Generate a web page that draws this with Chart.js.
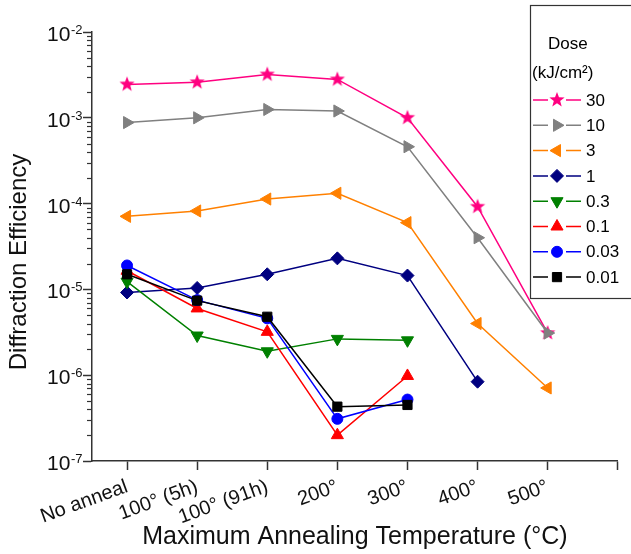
<!DOCTYPE html>
<html>
<head>
<meta charset="utf-8">
<script src="https://cdn.jsdelivr.net/npm/chart.js@4.4.0/dist/chart.umd.min.js"></script>
<style>
  html, body { margin: 0; padding: 0; background: #fff; }
  #wrap { width: 631px; height: 554px; }
</style>
</head>
<body>
<div id="wrap"><canvas id="myChart"></canvas></div>
<script>
// categories along x, one series per dose (kJ/cm2)
var categories = ["No anneal", "100° (5h)", "100° (91h)", "200°", "300°", "400°", "500°"];
var doseLabels = ["30", "10", "3", "1", "0.3", "0.1", "0.03", "0.01"];
var yTickExponents = ["-7", "-6", "-5", "-4", "-3", "-2"];

var dose30 = [2.45e-3, 2.6e-3, 3.2e-3, 2.8e-3, 1.0e-3, 9.2e-5, 3.1e-6];
var dose10 = [8.8e-4, 1.0e-3, 1.25e-3, 1.2e-3, 4.6e-4, 4.0e-5, 3.1e-6];
var dose3 = [7.1e-5, 8.2e-5, 1.13e-4, 1.32e-4, 6.0e-5, 4.0e-6, 7.1e-7];
var dose1 = [9.2e-6, 1.04e-5, 1.5e-5, 2.3e-5, 1.45e-5, 8.4e-7, null];
var dose03 = [1.23e-5, 2.9e-6, 1.9e-6, 2.65e-6, 2.55e-6, null, null];
var dose01 = [1.65e-5, 6.0e-6, 3.2e-6, 2.0e-7, 9.8e-7, null, null];
var dose003 = [1.9e-5, 7.5e-6, 4.6e-6, 3.1e-7, 5.2e-7, null, null];
var dose001 = [1.5e-5, 7.4e-6, 4.8e-6, 4.3e-7, 4.5e-7, null, null];

var seriesValues = [dose30, dose10, dose3, dose1, dose03, dose01, dose003, dose001];
var colors = ["#FF0080", "#808080", "#FF8000", "#000080", "#008000", "#FF0000", "#0000FF", "#000000"];

var FONT = '"Liberation Sans", Arial, sans-serif';

// filled five point star for the 30 kJ/cm2 series
function makeStar(color, r) {
  var c = document.createElement('canvas');
  c.width = c.height = Math.ceil(r * 2 + 2);
  var g = c.getContext('2d');
  var cx = c.width / 2, cy = c.height / 2;
  g.beginPath();
  for (var i = 0; i < 10; i++) {
    var rr = i % 2 ? r * 0.42 : r;
    var a = -Math.PI / 2 + i * Math.PI / 5;
    g.lineTo(cx + rr * Math.cos(a), cy + rr * Math.sin(a));
  }
  g.closePath();
  g.fillStyle = color;
  g.fill();
  return c;
}
var star = makeStar(colors[0], 8);

var styles = [
  {pointStyle: star, rotation: 0, radius: 8},
  {pointStyle: 'triangle', rotation: 90, radius: 7},
  {pointStyle: 'triangle', rotation: -90, radius: 7},
  {pointStyle: 'rectRot', rotation: 0, radius: 6.5},
  {pointStyle: 'triangle', rotation: 180, radius: 7},
  {pointStyle: 'triangle', rotation: 0, radius: 7},
  {pointStyle: 'circle', rotation: 0, radius: 5.5},
  {pointStyle: 'rect', rotation: 0, radius: 6.5}
];

var datasets = seriesValues.map(function (vals, k) {
  var pts = [];
  vals.forEach(function (v, i) { if (v !== null) pts.push({x: i, y: v}); });
  return {
    label: doseLabels[k],
    data: pts,
    borderColor: colors[k],
    backgroundColor: colors[k],
    borderWidth: 1.5,
    pointStyle: styles[k].pointStyle,
    pointRotation: styles[k].rotation,
    pointRadius: styles[k].radius,
    pointBorderWidth: 1,
    order: seriesValues.length - k
  };
});

function isMajor(v) {
  var e = Math.log10(v);
  return Math.abs(e - Math.round(e)) < 1e-6;
}

// minor ticks, 10^n labels with real superscripts, rotated y title
var axisPlugin = {
  id: 'logAxis',
  afterDraw: function (chart) {
    var ctx = chart.ctx, ys = chart.scales.y;
    ctx.save();
    ctx.strokeStyle = '#333';
    ctx.lineWidth = 1.2;
    ys.ticks.forEach(function (t) {
      var py = Math.round(ys.getPixelForValue(t.value)) + 0.5;
      if (!isMajor(t.value)) {
        ctx.beginPath();
        ctx.moveTo(ys.right - 5, py);
        ctx.lineTo(ys.right, py);
        ctx.stroke();
        return;
      }
      var exp = yTickExponents[Math.round(Math.log10(t.value)) + 7];
      ctx.fillStyle = '#111';
      ctx.textBaseline = 'alphabetic';
      ctx.textAlign = 'left';
      ctx.font = '13px ' + FONT;
      var we = ctx.measureText(exp).width;
      ctx.font = '21px ' + FONT;
      var wb = ctx.measureText('10').width;
      var x0 = ys.right - 10 - we - wb;
      ctx.fillText('10', x0, py + 8);
      ctx.font = '13px ' + FONT;
      ctx.fillText(exp, x0 + wb + 0.5, py + 1);
    });
    ctx.translate(19, 262);
    ctx.rotate(-Math.PI / 2);
    ctx.font = '24px ' + FONT;
    ctx.textAlign = 'center';
    ctx.textBaseline = 'middle';
    ctx.fillStyle = '#111';
    ctx.fillText('Diffraction Efficiency', 0, 0);
    ctx.restore();
  }
};

var legendPlugin = {
  id: 'doseLegend',
  afterDraw: function (chart) {
    var ctx = chart.ctx;
    ctx.save();
    ctx.fillStyle = '#fff';
    ctx.fillRect(530, 5, 110, 293);
    ctx.strokeStyle = '#333';
    ctx.lineWidth = 1.2;
    ctx.strokeRect(530.5, 5.5, 110, 293);
    ctx.fillStyle = '#000';
    ctx.font = '17px ' + FONT;
    ctx.textBaseline = 'middle';
    ctx.textAlign = 'left';
    ctx.fillText('Dose', 548, 44);
    ctx.fillText('(kJ/cm²)', 532, 73);
    chart.data.datasets.forEach(function (ds, k) {
      var y = 100 + k * 25.3;
      ctx.strokeStyle = ds.borderColor;
      ctx.lineWidth = 1.5;
      ctx.beginPath();
      ctx.moveTo(533, y);
      ctx.lineTo(548, y);
      ctx.moveTo(566, y);
      ctx.lineTo(581, y);
      ctx.stroke();
      ctx.fillStyle = ds.backgroundColor;
      ctx.lineWidth = 1;
      Chart.helpers.drawPoint(ctx, {
        pointStyle: ds.pointStyle,
        rotation: ds.pointRotation,
        radius: ds.pointRadius,
        borderWidth: 1
      }, 557, y);
      ctx.fillStyle = '#000';
      ctx.fillText(ds.label, 586, y + 1);
    });
    ctx.restore();
  }
};

Chart.defaults.font.family = FONT;
Chart.defaults.color = '#111';

const ctx = document.getElementById('myChart').getContext('2d');
let myChart = new Chart(ctx, {
  type: 'line',
  data: { datasets: datasets },
  options: {
    responsive: true,
    maintainAspectRatio: false,
    animation: false,
    layout: { padding: { top: 32, right: 4, bottom: 0, left: 0 } },
    scales: {
      x: {
        type: 'linear',
        min: -0.5,
        max: 7,
        afterBuildTicks: function (s) {
          s.ticks = [0, 1, 2, 3, 4, 5, 6, 7].map(function (v) { return {value: v}; });
        },
        afterFit: function (s) { s.height = 93; },
        ticks: {
          autoSkip: false,
          minRotation: 20,
          maxRotation: 20,
          padding: 5,
          font: { size: 20 },
          color: '#111',
          callback: function (v) { return categories[v] !== undefined ? categories[v] : ''; }
        },
        grid: { drawOnChartArea: false, tickLength: 9, tickWidth: 1.5, tickColor: '#333' },
        border: { color: '#333', width: 1.5 },
        title: {
          display: true,
          text: 'Maximum Annealing Temperature (°C)',
          font: { size: 25 },
          color: '#111',
          padding: { top: 0, bottom: 2 }
        }
      },
      y: {
        type: 'logarithmic',
        min: 1e-7,
        max: 1e-2,
        afterBuildTicks: function (s) {
          var t = [];
          for (var e = -7; e <= -2; e++) {
            for (var m = 1; m <= 9; m++) {
              if (e === -2 && m > 1) break;
              t.push({value: m * Math.pow(10, e)});
            }
          }
          s.ticks = t;
        },
        afterFit: function (s) { s.width = 92; },
        ticks: { display: false, autoSkip: false },
        grid: {
          drawOnChartArea: false,
          tickLength: 9,
          tickWidth: 1.5,
          tickColor: function (c) { return c.tick && isMajor(c.tick.value) ? '#333' : 'rgba(0,0,0,0)'; }
        },
        border: { color: '#333', width: 1.5 },
        title: { display: false }
      }
    },
    plugins: {
      legend: { display: false },
      tooltip: { enabled: false }
    }
  },
  plugins: [axisPlugin, legendPlugin]
});
</script>
</body>
</html>
